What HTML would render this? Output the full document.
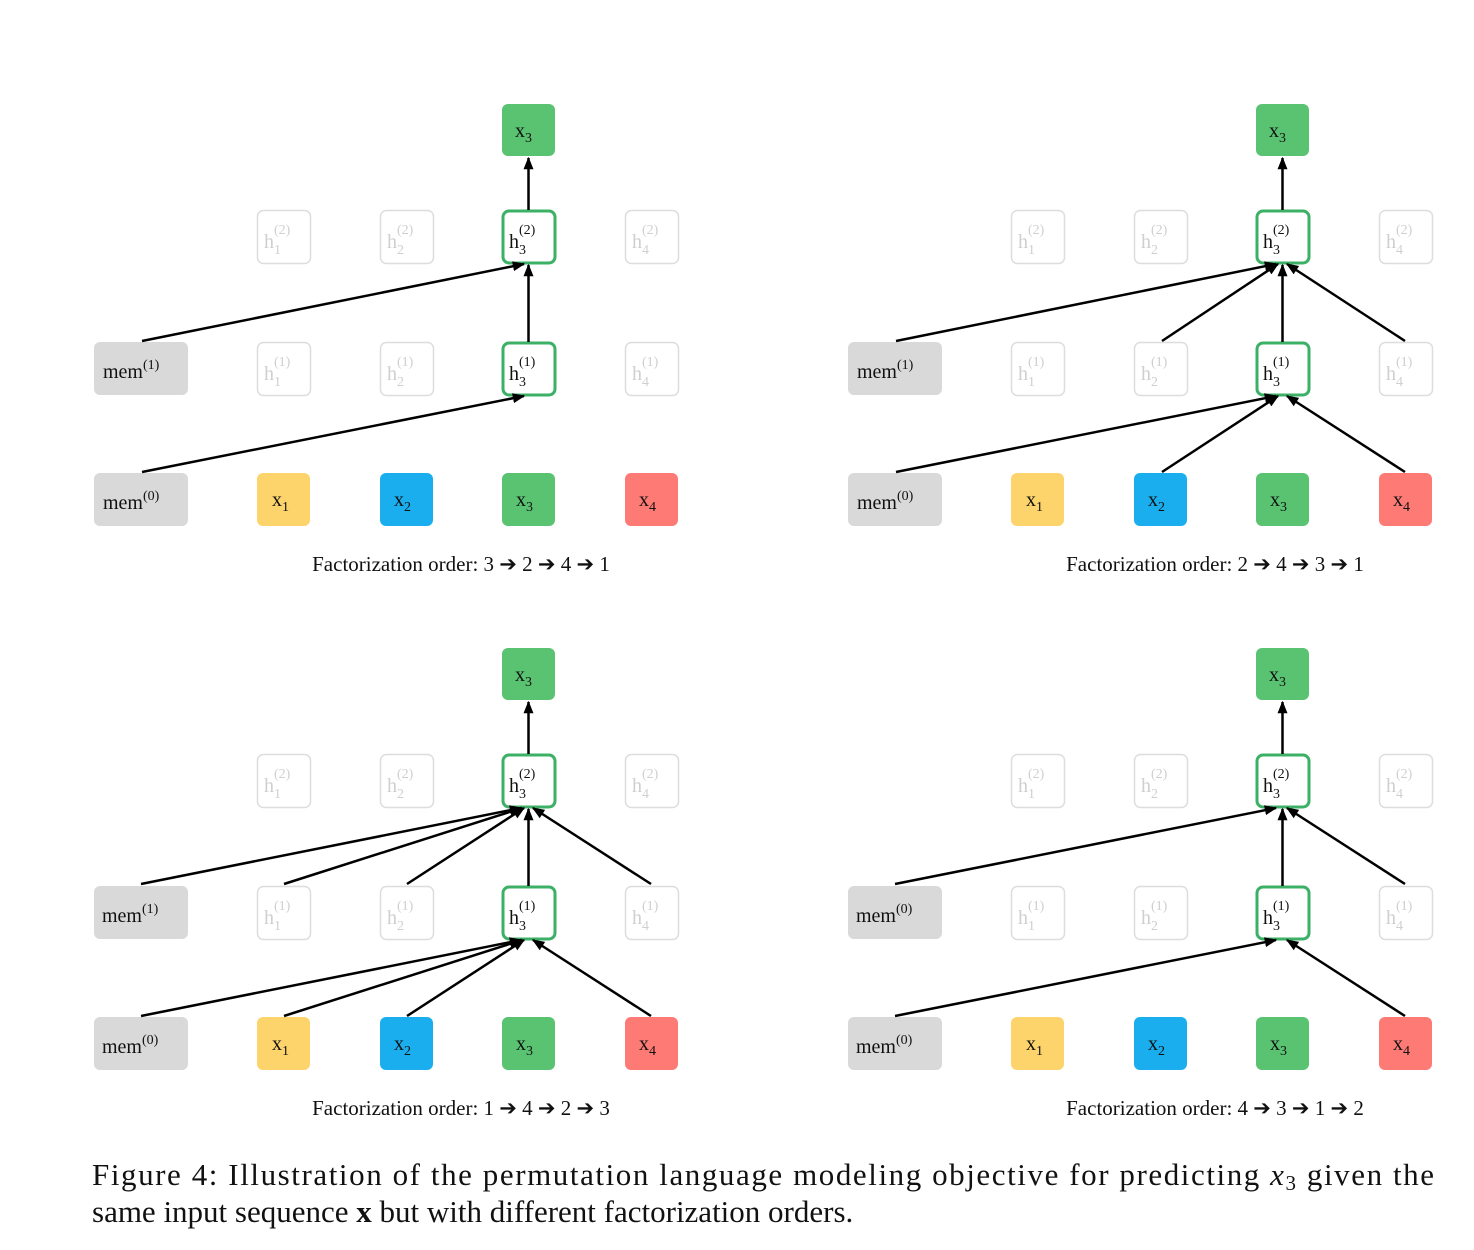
<!DOCTYPE html>
<html><head><meta charset="utf-8"><style>
html,body{margin:0;padding:0;background:#fff;}
svg{display:block;}
.t{font-family:"Liberation Serif",serif;fill:#111;}
.g{font-family:"Liberation Serif",serif;fill:#cfcfcf;}
</style></head><body>
<svg width="1474" height="1250" viewBox="0 0 1474 1250" xmlns="http://www.w3.org/2000/svg">
<defs>
<marker id="a" viewBox="0 0 10 10" refX="9" refY="5" markerWidth="5" markerHeight="5" orient="auto"><path d="M0,1 L10,5 L0,9 z" fill="#000"/></marker>
<g id="base">
  <!-- top x3 -->
  <rect x="502" y="104" width="53" height="52" rx="6" fill="#5ac372"/>
  <!-- h2 row ghosts -->
  <rect x="257.5" y="210.5" width="53" height="53" rx="6" fill="#fff" stroke="#ddd" stroke-width="1.5"/>
  <rect x="380.5" y="210.5" width="53" height="53" rx="6" fill="#fff" stroke="#ddd" stroke-width="1.5"/>
  <rect x="625.5" y="210.5" width="53" height="53" rx="6" fill="#fff" stroke="#ddd" stroke-width="1.5"/>
  <rect x="503" y="211" width="52" height="52" rx="6" fill="#fff" stroke="#3cb166" stroke-width="3"/>
  <!-- h1 row -->
  <rect x="94" y="342" width="94" height="53" rx="6" fill="#d9d9d9"/>
  <rect x="257.5" y="342.5" width="53" height="53" rx="6" fill="#fff" stroke="#ddd" stroke-width="1.5"/>
  <rect x="380.5" y="342.5" width="53" height="53" rx="6" fill="#fff" stroke="#ddd" stroke-width="1.5"/>
  <rect x="625.5" y="342.5" width="53" height="53" rx="6" fill="#fff" stroke="#ddd" stroke-width="1.5"/>
  <rect x="503" y="343" width="52" height="52" rx="6" fill="#fff" stroke="#3cb166" stroke-width="3"/>
  <!-- input row -->
  <rect x="94" y="473" width="94" height="53" rx="6" fill="#d9d9d9"/>
  <rect x="257" y="473" width="53" height="53" rx="6" fill="#fdd46c"/>
  <rect x="380" y="473" width="53" height="53" rx="6" fill="#1aaeee"/>
  <rect x="502" y="473" width="53" height="53" rx="6" fill="#5ac372"/>
  <rect x="625" y="473" width="53" height="53" rx="6" fill="#fe7a75"/>
  <!-- labels -->
  <text class="t" x="515" y="137" font-size="20">x<tspan font-size="14" dy="5">3</tspan></text>
  <text class="g" x="264" y="248" font-size="20">h<tspan font-size="14" dy="6">1</tspan><tspan font-size="14" dx="-7" dy="-20">(2)</tspan></text>
  <text class="g" x="387" y="248" font-size="20">h<tspan font-size="14" dy="6">2</tspan><tspan font-size="14" dx="-7" dy="-20">(2)</tspan></text>
  <text class="t" x="509" y="248" font-size="20">h<tspan font-size="14" dy="6">3</tspan><tspan font-size="14" dx="-7" dy="-20">(2)</tspan></text>
  <text class="g" x="632" y="248" font-size="20">h<tspan font-size="14" dy="6">4</tspan><tspan font-size="14" dx="-7" dy="-20">(2)</tspan></text>
  <text class="g" x="264" y="380" font-size="20">h<tspan font-size="14" dy="6">1</tspan><tspan font-size="14" dx="-7" dy="-20">(1)</tspan></text>
  <text class="g" x="387" y="380" font-size="20">h<tspan font-size="14" dy="6">2</tspan><tspan font-size="14" dx="-7" dy="-20">(1)</tspan></text>
  <text class="t" x="509" y="380" font-size="20">h<tspan font-size="14" dy="6">3</tspan><tspan font-size="14" dx="-7" dy="-20">(1)</tspan></text>
  <text class="g" x="632" y="380" font-size="20">h<tspan font-size="14" dy="6">4</tspan><tspan font-size="14" dx="-7" dy="-20">(1)</tspan></text>
  <text class="t" x="272" y="506" font-size="20">x<tspan font-size="14" dy="5">1</tspan></text>
  <text class="t" x="394" y="506" font-size="20">x<tspan font-size="14" dy="5">2</tspan></text>
  <text class="t" x="516" y="506" font-size="20">x<tspan font-size="14" dy="5">3</tspan></text>
  <text class="t" x="639" y="506" font-size="20">x<tspan font-size="14" dy="5">4</tspan></text>
  <!-- vertical arrows -->
  <g stroke="#000" stroke-width="2.5" fill="none">
    <line x1="528.5" y1="210" x2="528.5" y2="158" marker-end="url(#a)"/>
    <line x1="528.5" y1="342" x2="528.5" y2="265" marker-end="url(#a)"/>
  </g>
</g>
</defs>

<!-- Panel TL -->
<g>
  <use href="#base"/>
  <text class="t" x="103" y="378" font-size="20">mem<tspan font-size="14" dy="-9">(1)</tspan></text>
  <text class="t" x="103" y="509" font-size="20">mem<tspan font-size="14" dy="-9">(0)</tspan></text>
  <g stroke="#000" stroke-width="2.5" fill="none" marker-end="url(#a)">
    <line x1="142" y1="341" x2="524" y2="264"/>
    <line x1="142" y1="472" x2="524" y2="396"/>
  </g>
  <text class="t" x="461" y="571" font-size="21" text-anchor="middle">Factorization  order:  3 ➔ 2 ➔ 4 ➔ 1</text>
</g>

<!-- Panel TR -->
<g transform="translate(754,0)">
  <use href="#base"/>
  <text class="t" x="103" y="378" font-size="20">mem<tspan font-size="14" dy="-9">(1)</tspan></text>
  <text class="t" x="103" y="509" font-size="20">mem<tspan font-size="14" dy="-9">(0)</tspan></text>
  <g stroke="#000" stroke-width="2.5" fill="none" marker-end="url(#a)">
    <line x1="142" y1="341" x2="522" y2="264"/>
    <line x1="408" y1="341" x2="524" y2="264"/>
    <line x1="651" y1="341" x2="533" y2="264"/>
    <line x1="142" y1="472" x2="522" y2="396"/>
    <line x1="408" y1="472" x2="524" y2="396"/>
    <line x1="651" y1="472" x2="533" y2="396"/>
  </g>
  <text class="t" x="461" y="571" font-size="21" text-anchor="middle">Factorization  order:  2 ➔ 4 ➔ 3 ➔ 1</text>
</g>

<!-- Panel BL -->
<g transform="translate(0,544)">
  <use href="#base"/>
  <text class="t" x="102" y="378" font-size="20">mem<tspan font-size="14" dy="-9">(1)</tspan></text>
  <text class="t" x="102" y="509" font-size="20">mem<tspan font-size="14" dy="-9">(0)</tspan></text>
  <g stroke="#000" stroke-width="2.5" fill="none" marker-end="url(#a)">
    <line x1="141" y1="340" x2="521" y2="264"/>
    <line x1="284" y1="340" x2="522" y2="264"/>
    <line x1="407" y1="340" x2="524" y2="264"/>
    <line x1="651" y1="340" x2="533" y2="264"/>
    <line x1="141" y1="472" x2="521" y2="396"/>
    <line x1="284" y1="472" x2="522" y2="396"/>
    <line x1="407" y1="472" x2="524" y2="396"/>
    <line x1="651" y1="472" x2="533" y2="396"/>
  </g>
  <text class="t" x="461" y="571" font-size="21" text-anchor="middle">Factorization  order:  1 ➔ 4 ➔ 2 ➔ 3</text>
</g>

<!-- Panel BR -->
<g transform="translate(754,544)">
  <use href="#base"/>
  <text class="t" x="102" y="378" font-size="20">mem<tspan font-size="14" dy="-9">(0)</tspan></text>
  <text class="t" x="102" y="509" font-size="20">mem<tspan font-size="14" dy="-9">(0)</tspan></text>
  <g stroke="#000" stroke-width="2.5" fill="none" marker-end="url(#a)">
    <line x1="141" y1="340" x2="522" y2="264"/>
    <line x1="651" y1="340" x2="533" y2="264"/>
    <line x1="141" y1="472" x2="522" y2="396"/>
    <line x1="651" y1="472" x2="533" y2="396"/>
  </g>
  <text class="t" x="461" y="571" font-size="21" text-anchor="middle">Factorization  order:  4 ➔ 3 ➔ 1 ➔ 2</text>
</g>

<!-- Caption -->
<text class="t" x="92" y="1185" font-size="31" textLength="1342" lengthAdjust="spacing">Figure 4: Illustration of the permutation language modeling objective for predicting <tspan font-style="italic">x</tspan><tspan font-size="21" dy="5">3</tspan><tspan dy="-5"> given the</tspan></text>
<text class="t" x="92" y="1222" font-size="31">same input sequence <tspan font-weight="bold">x</tspan> but with different factorization orders.</text>
</svg>
</body></html>
